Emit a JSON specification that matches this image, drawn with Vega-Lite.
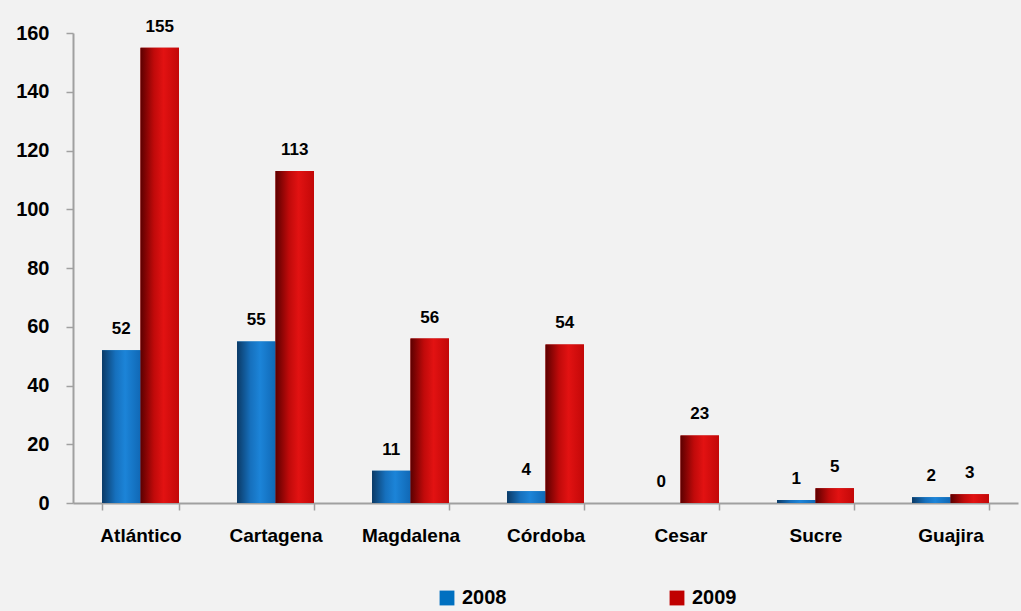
{
  "$schema": "https://vega.github.io/schema/vega-lite/v6.json",
  "autosize": "none",
  "width": 945,
  "height": 470,
  "padding": {"left": 73, "top": 33, "right": 3, "bottom": 108},
  "background": "#f2f2f2",
  "config": {
    "view": {"stroke": null},
    "font": "Liberation Sans"
  },
  "data": {
    "values": [
      {"dept": "Atlántico", "year": "2008", "value": 52},
      {"dept": "Atlántico", "year": "2009", "value": 155},
      {"dept": "Cartagena", "year": "2008", "value": 55},
      {"dept": "Cartagena", "year": "2009", "value": 113},
      {"dept": "Magdalena", "year": "2008", "value": 11},
      {"dept": "Magdalena", "year": "2009", "value": 56},
      {"dept": "Córdoba", "year": "2008", "value": 4},
      {"dept": "Córdoba", "year": "2009", "value": 54},
      {"dept": "Cesar", "year": "2008", "value": 0},
      {"dept": "Cesar", "year": "2009", "value": 23},
      {"dept": "Sucre", "year": "2008", "value": 1},
      {"dept": "Sucre", "year": "2009", "value": 5},
      {"dept": "Guajira", "year": "2008", "value": 2},
      {"dept": "Guajira", "year": "2009", "value": 3}
    ]
  },
  "encoding": {
    "x": {
      "field": "dept", "type": "nominal", "sort": null,
      "scale": {"paddingInner": 0.43, "paddingOuter": 0.215},
      "axis": {
        "title": null, "labelAngle": 0, "labelFont": "Liberation Sans",
        "labelFontSize": 19, "labelFontWeight": "bold", "labelColor": "#000000",
        "domainColor": "#a0a0a0", "domainWidth": 2, "tickColor": "#a0a0a0",
        "tickWidth": 1.5, "tickSize": 7, "tickBand": "extent", "labelPadding": 16
      }
    },
    "xOffset": {"field": "year", "type": "nominal", "scale": {"domain": ["2008", "2009"]}},
    "y": {
      "field": "value", "type": "quantitative",
      "scale": {"domain": [0, 160], "nice": false},
      "axis": {
        "title": null, "values": [0, 20, 40, 60, 80, 100, 120, 140, 160],
        "grid": false, "labelFont": "Liberation Sans", "labelFontSize": 20,
        "labelFontWeight": "bold", "labelColor": "#000000",
        "domainColor": "#a0a0a0", "domainWidth": 2, "tickColor": "#a0a0a0",
        "tickWidth": 1.5, "tickSize": 7, "labelPadding": 17
      }
    }
  },
  "layer": [
    {
      "mark": {"type": "bar"},
      "encoding": {
        "color": {
          "field": "year", "type": "nominal",
          "scale": {"domain": ["2008", "2009"], "range": ["#0070c0", "#c00000"]},
          "legend": {
            "title": null, "orient": "none", "legendX": 364, "legendY": 555,
            "direction": "horizontal", "symbolType": "square", "symbolSize": 220,
            "symbolStrokeWidth": 0, "labelFontSize": 20, "labelFontWeight": "bold",
            "labelFont": "Liberation Sans", "labelColor": "#000000",
            "columnPadding": 160, "labelOffset": 5
          }
        }
      }
    },
    {
      "mark": {"type": "bar"},
      "encoding": {
        "color": {
          "condition": {
            "test": "datum.year === '2008'",
            "value": {
              "gradient": "linear", "x1": 0, "y1": 0, "x2": 1, "y2": 0,
              "stops": [
                {"offset": 0, "color": "#0b3a66"},
                {"offset": 0.35, "color": "#1670bd"},
                {"offset": 0.6, "color": "#1c84d8"},
                {"offset": 1, "color": "#1068b5"}
              ]
            }
          },
          "value": {
            "gradient": "linear", "x1": 0, "y1": 0, "x2": 1, "y2": 0,
            "stops": [
              {"offset": 0, "color": "#5c0000"},
              {"offset": 0.35, "color": "#c00a0a"},
              {"offset": 0.6, "color": "#e21212"},
              {"offset": 1, "color": "#c20808"}
            ]
          }
        }
      }
    },
    {
      "mark": {"type": "text", "baseline": "alphabetic", "dy": -16, "fontSize": 17, "fontWeight": "bold", "font": "Liberation Sans", "color": "#000000"},
      "encoding": {"text": {"field": "value", "type": "quantitative"}}
    }
  ]
}
